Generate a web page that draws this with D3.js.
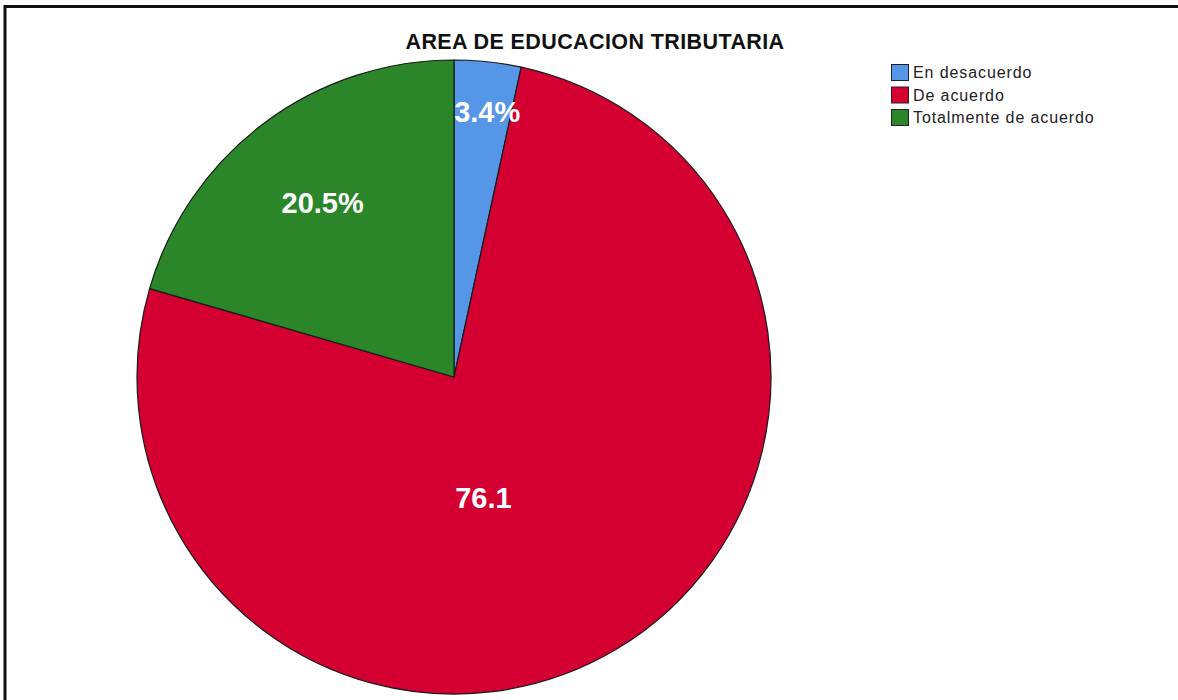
<!DOCTYPE html>
<html>
<head>
<meta charset="utf-8">
<script src="https://cdn.jsdelivr.net/npm/d3@7"></script>
<style>
  body { margin: 0; background: #fff; }
  svg { display: block; }
</style>
</head>
<body>
<svg></svg>
<script>
const width = 1178;
const height = 700;

// data
const categories = ['En desacuerdo', 'De acuerdo', 'Totalmente de acuerdo'];
const values = [3.4, 76.1, 20.5];
const labels = ['3.4%', '76.1', '20.5%'];
const colors = ['#5596E6', '#D50032', '#2A8628'];

const title = 'AREA DE EDUCACION TRIBUTARIA';

const cx = 454, cy = 377, radius = 317;

// where each label sits: [fraction of radius, angle shift in degrees]
const labelPlace = [[0.845, 1], [0.39, 17], [0.69, 0]];

const svg = d3.select('svg')
  .attr('width', width)
  .attr('height', height);

// frame (top and left edges only)
svg.append('line')
  .attr('x1', 4).attr('y1', 6.5).attr('x2', width).attr('y2', 6.5)
  .attr('stroke', '#111').attr('stroke-width', 3);
svg.append('line')
  .attr('x1', 5).attr('y1', 5).attr('x2', 5).attr('y2', height)
  .attr('stroke', '#111').attr('stroke-width', 3);

svg.append('text')
  .attr('x', 595)
  .attr('y', 49)
  .attr('text-anchor', 'middle')
  .style('font-family', 'Liberation Sans, Arial, sans-serif')
  .style('font-weight', 'bold')
  .style('font-size', '21.5px')
  .style('letter-spacing', '0.4px')
  .style('fill', '#111')
  .text(title);

const pie = d3.pie().sort(null).value((d) => d);
const arcs = pie(values);
const arc = d3.arc().innerRadius(0).outerRadius(radius);

const g = svg.append('g').attr('transform', `translate(${cx},${cy})`);

g.selectAll('path')
  .data(arcs)
  .join('path')
  .attr('d', arc)
  .attr('fill', (d, i) => colors[i])
  .attr('stroke', '#1a1a1a')
  .attr('stroke-width', 1.2)
  .attr('stroke-linejoin', 'round');

g.selectAll('text.lab')
  .data(arcs)
  .join('text')
  .attr('class', 'lab')
  .attr('transform', (d, i) => {
    const a = (d.startAngle + d.endAngle) / 2 + labelPlace[i][1] * Math.PI / 180;
    const r = radius * labelPlace[i][0];
    return `translate(${r * Math.sin(a)},${-r * Math.cos(a)})`;
  })
  .attr('text-anchor', 'middle')
  .attr('dy', '0.36em')
  .style('font-family', 'Liberation Sans, Arial, sans-serif')
  .style('font-weight', 'bold')
  .style('font-size', '29px')
  .style('fill', '#fff')
  .text((d, i) => labels[i]);

// legend
const legend = svg.append('g').attr('transform', 'translate(891,64)');
const item = legend.selectAll('g')
  .data(categories)
  .join('g')
  .attr('transform', (d, i) => `translate(0,${i * 22.5})`);

item.append('rect')
  .attr('x', 0.5).attr('y', 0.5)
  .attr('width', 17).attr('height', 16)
  .attr('fill', (d, i) => colors[i])
  .attr('stroke', '#222')
  .attr('stroke-width', 1);

item.append('text')
  .attr('x', 22)
  .attr('y', 14)
  .style('font-family', 'Liberation Sans, Arial, sans-serif')
  .style('font-size', '16px')
  .style('letter-spacing', '0.9px')
  .style('fill', '#222')
  .text((d) => d);
</script>
</body>
</html>
